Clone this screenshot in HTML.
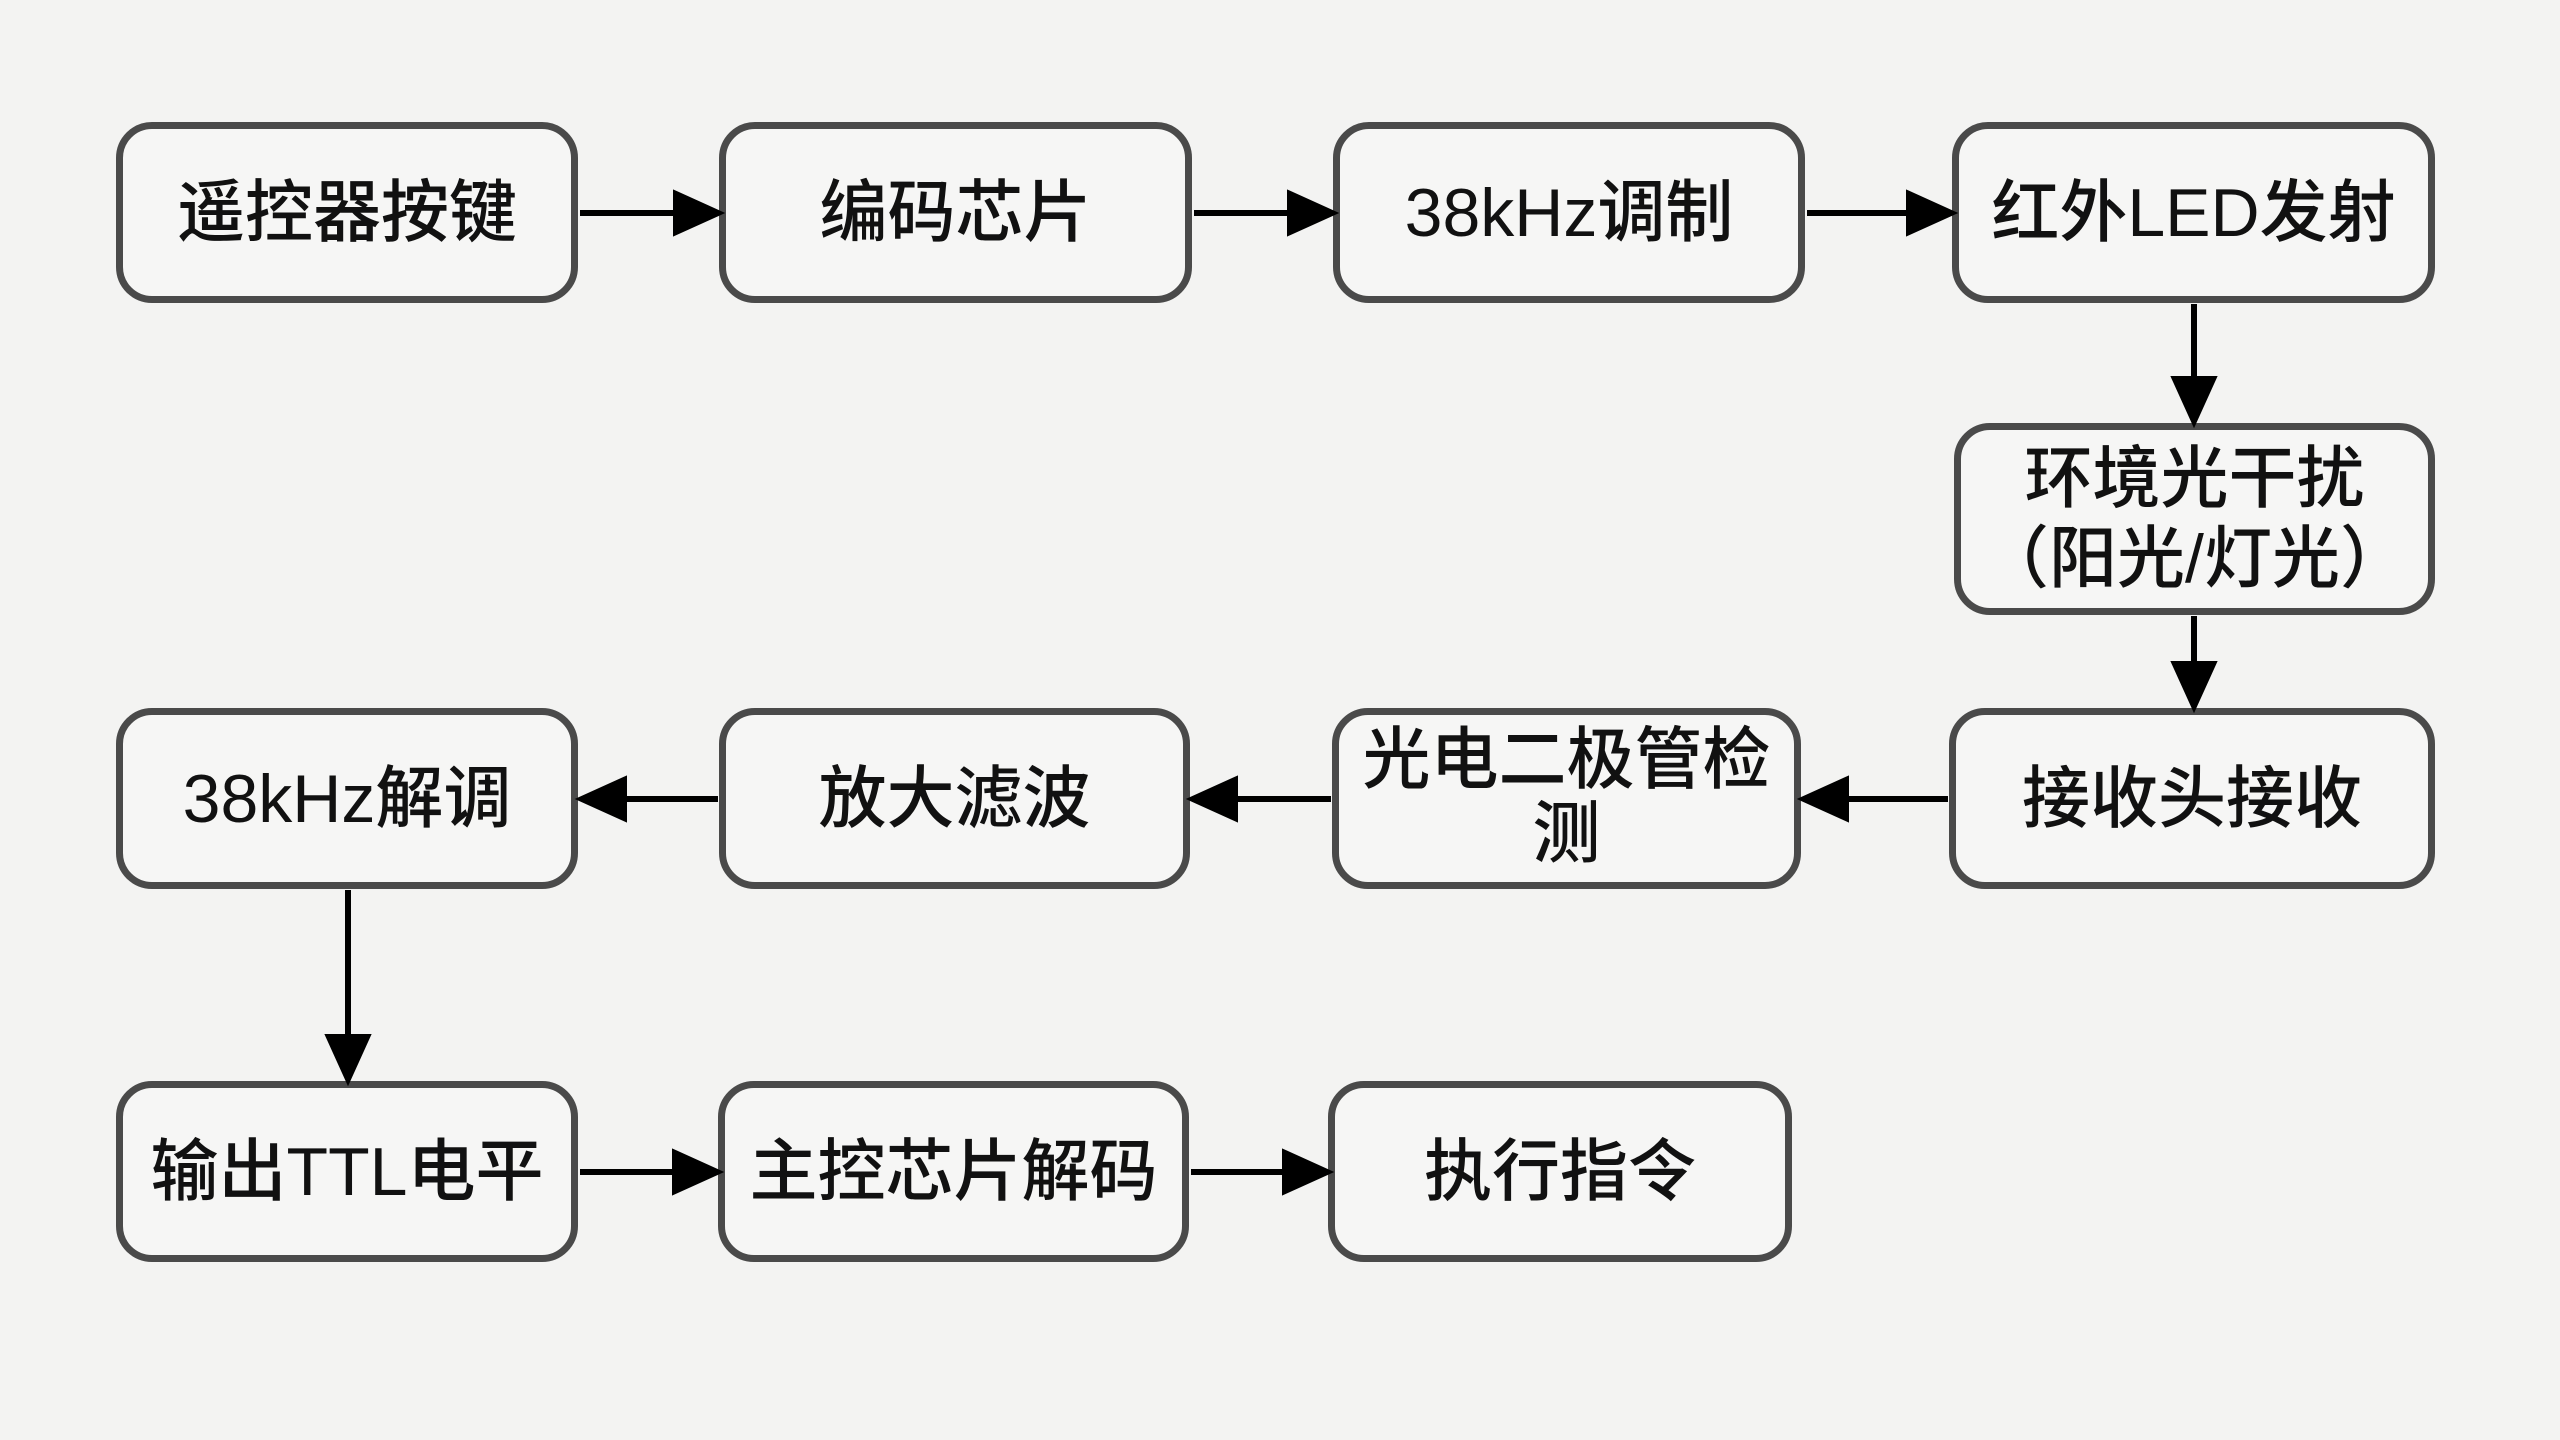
<!DOCTYPE html>
<html><head><meta charset="utf-8"><style>
body{margin:0;width:2560px;height:1440px;background:#f3f3f2;position:relative;overflow:hidden;font-family:"Liberation Sans","Noto Sans CJK SC",sans-serif;}
.b{position:absolute;box-sizing:border-box;border:7px solid #4a4a4a;border-radius:36px;background:#f6f6f5;display:flex;align-items:center;justify-content:center;text-align:center;font-size:68px;line-height:80px;color:#111;font-weight:500;}
svg{position:absolute;left:0;top:0;}
</style></head><body>
<div class="b" style="left:116px;top:122px;width:462px;height:181px">遥控器按键</div>
<div class="b" style="left:719px;top:122px;width:473px;height:181px">编码芯片</div>
<div class="b" style="left:1333px;top:122px;width:472px;height:181px">38kHz调制</div>
<div class="b" style="left:1952px;top:122px;width:483px;height:181px">红外LED发射</div>
<div class="b" style="left:1954px;top:423px;width:481px;height:192px">环境光干扰<br>（阳光/灯光）</div>
<div class="b" style="left:116px;top:708px;width:462px;height:181px">38kHz解调</div>
<div class="b" style="left:719px;top:708px;width:471px;height:181px">放大滤波</div>
<div class="b" style="left:1332px;top:708px;width:469px;height:181px;line-height:74px;padding-bottom:4px">光电二极管检<br>测</div>
<div class="b" style="left:1949px;top:708px;width:486px;height:181px">接收头接收</div>
<div class="b" style="left:116px;top:1081px;width:462px;height:181px">输出TTL电平</div>
<div class="b" style="left:718px;top:1081px;width:471px;height:181px">主控芯片解码</div>
<div class="b" style="left:1328px;top:1081px;width:464px;height:181px">执行指令</div>
<svg width="2560" height="1440">
<g stroke="#000" stroke-width="6" fill="#000">
<line x1="580" y1="213" x2="680" y2="213"/><path d="M676,194 L718,213 L676,232Z"/>
<line x1="1194" y1="213" x2="1294" y2="213"/><path d="M1290,194 L1332,213 L1290,232Z"/>
<line x1="1807" y1="213" x2="1913" y2="213"/><path d="M1909,194 L1951,213 L1909,232Z"/>
<line x1="2194" y1="304" x2="2194" y2="383"/><path d="M2175,379 L2194,421 L2213,379Z"/>
<line x1="2194" y1="616" x2="2194" y2="668"/><path d="M2175,664 L2194,706 L2213,664Z"/>
<line x1="1948" y1="799" x2="1842" y2="799"/><path d="M1846,780 L1804,799 L1846,818Z"/>
<line x1="1331" y1="799" x2="1231" y2="799"/><path d="M1235,780 L1193,799 L1235,818Z"/>
<line x1="718" y1="799" x2="620" y2="799"/><path d="M624,780 L582,799 L624,818Z"/>
<line x1="348" y1="890" x2="348" y2="1041"/><path d="M329,1037 L348,1079 L367,1037Z"/>
<line x1="580" y1="1172" x2="679" y2="1172"/><path d="M675,1153 L717,1172 L675,1191Z"/>
<line x1="1191" y1="1172" x2="1289" y2="1172"/><path d="M1285,1153 L1327,1172 L1285,1191Z"/>
</g></svg>
</body></html>
